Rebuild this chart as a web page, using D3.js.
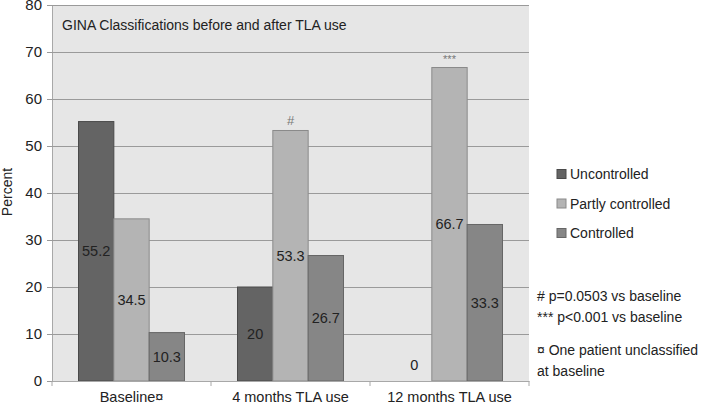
<!DOCTYPE html>
<html>
<head>
<meta charset="utf-8">
<script src="https://cdn.jsdelivr.net/npm/d3@7/dist/d3.min.js"></script>
<style>
  body { margin: 0; background: #fff; }
  text { font-family: "Liberation Sans", Arial, sans-serif; fill: #222; }
</style>
</head>
<body>
<svg></svg>
<script>
// chart data
var categories = ["Baseline\u00a4", "4 months TLA use", "12 months TLA use"];
var seriesNames = ["Uncontrolled", "Partly controlled", "Controlled"];
var uncontrolled = [55.2, 20, 0];
var partly = [34.5, 53.3, 66.7];
var controlled = [10.3, 26.7, 33.3];
var marks = ["", "#", "***"]; // significance markers above partly controlled
var yTicks = [0, 10, 20, 30, 40, 50, 60, 70, 80];
var notes = ["# p=0.0503 vs baseline", "*** p<0.001 vs baseline", "\u00a4 One patient unclassified", "at baseline"];

var width = 702, height = 406;
var plotL = 52, plotR = 529, plotT = 5, plotB = 381; // 'top' clashes with window.top
var colors = ["#646464", "#b4b4b4", "#868686"];
var strokes = ["#4a4a4a", "#8a8a8a", "#666666"];

var svg = d3.select("svg").attr("width", width).attr("height", height);

var x = d3.scaleBand().domain(categories).range([plotL, plotR]);
var x1 = d3.scaleBand().domain(seriesNames)
           .range([0, x.bandwidth()]).paddingOuter(0.75).paddingInner(0);
var y = d3.scaleLinear().domain([0, 80]).range([plotB, plotT]);

// plot background
svg.append("rect")
   .attr("x", plotL).attr("y", plotT)
   .attr("width", plotR - plotL).attr("height", plotB - plotT)
   .attr("fill", "#e6e6e6");

// grid + y axis
var yAxis = svg.append("g")
   .attr("transform", `translate(${plotL},0)`)
   .call(d3.axisLeft(y).tickValues(yTicks).tickSize(-(plotR - plotL)).tickSizeOuter(0).tickPadding(10));
yAxis.select(".domain").attr("stroke", "#a8a8a8");
yAxis.selectAll(".tick line").attr("stroke", "#9a9a9a").attr("x1", -5);
yAxis.selectAll(".tick text").style("font-size", "15px").attr("fill", "#222");

// y label
svg.append("text")
   .attr("transform", "translate(12,192) rotate(-90)")
   .attr("text-anchor", "middle")
   .style("font-size", "14px")
   .text("Percent");

// title
svg.append("text")
   .attr("x", 62).attr("y", 30)
   .style("font-size", "14px")
   .text("GINA Classifications before and after TLA use");

// bars
var rows = categories.map((c, i) => ({
  cat: c, vals: [uncontrolled[i], partly[i], controlled[i]], mark: marks[i]
}));

var groups = svg.selectAll("g.grp").data(rows).enter()
   .append("g").attr("class", "grp")
   .attr("transform", d => `translate(${x(d.cat)},0)`);

groups.selectAll("rect").data(d => d.vals.map((v, k) => ({ v: v, k: k }))).enter()
   .append("rect")
   .attr("x", d => x1(seriesNames[d.k]))
   .attr("y", d => y(d.v))
   .attr("width", x1.bandwidth())
   .attr("height", d => plotB - y(d.v))
   .attr("fill", d => colors[d.k])
   .attr("stroke", d => d.v > 0 ? strokes[d.k] : "none")
   .attr("stroke-width", 1);

groups.selectAll("text.val").data(d => d.vals.map((v, k) => ({ v: v, k: k }))).enter()
   .append("text").attr("class", "val")
   .attr("x", d => x1(seriesNames[d.k]) + x1.bandwidth() / 2)
   .attr("y", d => d.v > 0 ? (y(d.v) + plotB) / 2 + 5 : plotB - 11)
   .attr("text-anchor", "middle")
   .style("font-size", "14.5px")
   .text(d => d.v);

groups.append("text")
   .attr("x", x1(seriesNames[1]) + x1.bandwidth() / 2)
   .attr("y", d => y(d.vals[1]) - 5)
   .attr("text-anchor", "middle")
   .style("font-size", d => d.mark === "#" ? "13px" : "11px")
   .style("fill", "#777")
   .text(d => d.mark);

// x axis
var xAxis = svg.append("g")
   .attr("transform", `translate(0,${plotB})`)
   .call(d3.axisBottom(x).tickSize(0).tickPadding(11));
xAxis.select(".domain").attr("stroke", "#a8a8a8");
xAxis.selectAll(".tick text").style("font-size", "14.5px").attr("fill", "#222");
var edges = [plotL, plotL + x.bandwidth(), plotL + 2 * x.bandwidth(), plotR];
svg.selectAll("line.xt").data(edges).enter().append("line")
   .attr("x1", d => d).attr("x2", d => d)
   .attr("y1", plotB).attr("y2", plotB + 5)
   .attr("stroke", "#a8a8a8");

// legend
var legend = svg.selectAll("g.leg").data(seriesNames).enter()
   .append("g").attr("class", "leg")
   .attr("transform", (d, i) => `translate(557,${174 + i * 29.5})`);
legend.append("rect")
   .attr("x", 0).attr("y", -4.5).attr("width", 9).attr("height", 9)
   .attr("fill", (d, i) => colors[i]).attr("stroke", (d, i) => strokes[i]);
legend.append("text")
   .attr("x", 13).attr("y", 5)
   .style("font-size", "14px")
   .text(d => d);

// notes
var noteY = [301, 322, 355, 376];
svg.selectAll("text.note").data(notes).enter()
   .append("text").attr("class", "note")
   .attr("x", 537).attr("y", (d, i) => noteY[i])
   .style("font-size", "14px")
   .text(d => d);
</script>
</body>
</html>
